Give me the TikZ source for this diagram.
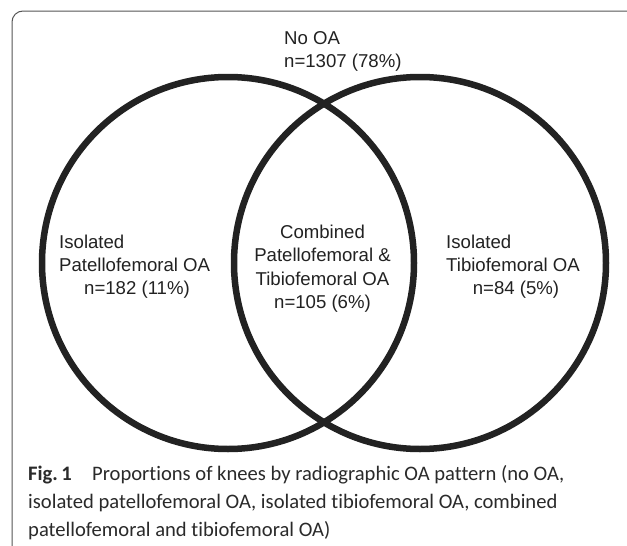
\documentclass[tikz,border=0pt]{standalone}
\usepackage{fontspec}
\setmainfont{Liberation Sans}
\newfontfamily\capfont[Ligatures={NoCommon,NoRequired,NoContextual}]{Carlito}
\definecolor{ink}{HTML}{222222}
\definecolor{capink}{HTML}{2A2A2A}
\definecolor{framegray}{HTML}{555555}
\tikzset{
  venn/.style={draw=ink, line width=6.5pt},
  lbl/.style={inner sep=0pt, text=ink, font=\fontsize{18.6}{23.5}\selectfont},
  captext/.style={inner sep=0pt, anchor=base west, text=capink, font=\capfont\fontsize{20.6}{28}\selectfont},
}
\begin{document}
\begin{tikzpicture}[x=1pt,y=-1pt]
\useasboundingbox (0,0) rectangle (627,546);
\clip (0,0) rectangle (627,546);
\fill[white] (0,0) rectangle (627,546);
\draw[framegray, line width=1pt, rounded corners=11pt] (12,11) rectangle (660,580);
\draw[venn] (228,263) circle[radius=186pt];
\draw[venn] (420,263) circle[radius=186pt];
% top label
\node[lbl, anchor=base west] (noa1) at (284,44) {No OA};
\node[lbl, anchor=base west] (noa2) at (284,67.5) {n=1307 (78\%)};
% left
\node[lbl, anchor=base west] (pf1) at (59,248) {Isolated};
\node[lbl, anchor=base west] (pf2) at (59,271) {Patellofemoral OA};
\node[lbl, anchor=base] (pf3) at (137,294) {n=182 (11\%)};
% center
\node[lbl, anchor=base] (c1) at (322.5,238) {Combined};
\node[lbl, anchor=base] (c2) at (322.5,261.5) {Patellofemoral \&};
\node[lbl, anchor=base] (c3) at (322.5,285) {Tibiofemoral OA};
\node[lbl, anchor=base] (c4) at (322.5,308.5) {n=105 (6\%)};
% right
\node[lbl, anchor=base west] (tf1) at (446,248) {Isolated};
\node[lbl, anchor=base west] (tf2) at (446,271) {Tibiofemoral OA};
\node[lbl, anchor=base] (tf3) at (516,294) {n=84 (5\%)};
% caption
\node[captext] (fig) at (28,480.5) {\textbf{Fig.\,1}};
\node[captext] (cap1) at (92,480.5) {Proportions of knees by radiographic OA pattern (no OA,};
\node[captext] (cap2) at (28,508.5) {isolated patellofemoral OA, isolated tibiofemoral OA, combined};
\node[captext] (cap3) at (28,536.5) {patellofemoral and tibiofemoral OA)};
\end{tikzpicture}
\end{document}
